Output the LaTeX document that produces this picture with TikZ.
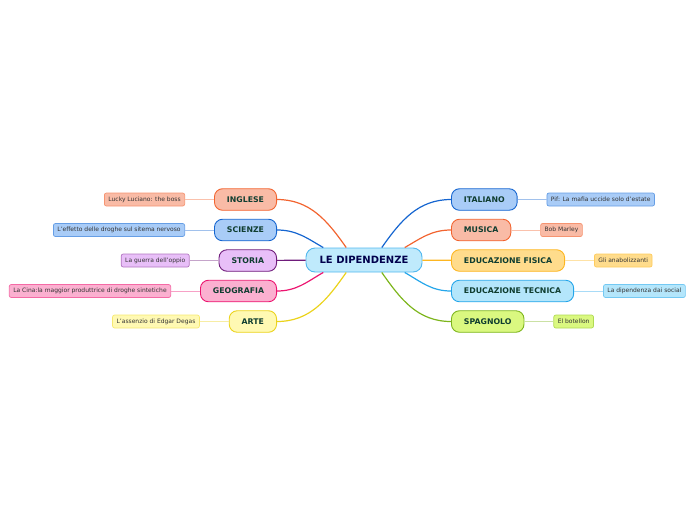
\documentclass[tikz,border=0pt]{standalone}
\usepackage{fontspec}
\setmainfont{DejaVu Sans}
\usetikzlibrary{positioning}
\definecolor{ing}{HTML}{F26430}\definecolor{ingfill}{HTML}{F9BBA6}
\definecolor{sci}{HTML}{1565D0}\definecolor{scifill}{HTML}{A9CCF7}
\definecolor{sto}{HTML}{6F1C7B}\definecolor{stofill}{HTML}{E8BFF8}
\definecolor{geo}{HTML}{EC1570}\definecolor{geofill}{HTML}{FBB0D0}
\definecolor{art}{HTML}{EBD31C}\definecolor{artfill}{HTML}{FFF9B3}
\definecolor{fis}{HTML}{FDB621}\definecolor{fisfill}{HTML}{FFDC8C}
\definecolor{tec}{HTML}{25A6EA}\definecolor{tecfill}{HTML}{B4E6FB}
\definecolor{spa}{HTML}{7DB51C}\definecolor{spafill}{HTML}{DAF880}
\definecolor{maintext}{HTML}{0F3D30}
\tikzset{
  mainbox/.style={draw=#1,fill=#1fill,line width=.9pt,rounded corners=8pt,minimum height=21.5pt,inner xsep=12.5pt,
    font=\fontsize{7.8}{9}\selectfont\bfseries,text=maintext},
  subbox/.style={draw=#1!45!#1fill,fill=#1fill,line width=.7pt,rounded corners=2pt,minimum height=13pt,inner xsep=4pt,inner ysep=1pt,
    font=\fontsize{6}{7}\selectfont,text=black!80},
  subline/.style={draw=#1!40!white,line width=1pt},
  branch/.style={draw=#1,line width=1.2pt}
}
\begin{document}
\begin{tikzpicture}[x=1pt,y=1pt]
\useasboundingbox (0,0) rectangle (696,-520);
\node[draw=tec!80,fill=tecfill!85,line width=.9pt,rounded corners=9pt,minimum width=116pt,minimum height=24pt,
  font=\fontsize{10}{12}\selectfont\bfseries,text=blue!30!black] (c) at (364,-260) {LE DIPENDENZE};
% left branches
\foreach \n/\t/\c/\y/\s in {ing/INGLESE/ing/199.5/{Lucky Luciano: the boss},
  sci/SCIENZE/sci/230/{L'effetto delle droghe sul sitema nervoso},
  sto/STORIA/sto/260.5/{La guerra dell'oppio},
  geo/GEOGRAFIA/geo/291/{La Cina:la maggior produttrice di droghe sintetiche},
  art/ARTE/art/321.5/{L'assenzio di Edgar Degas}}
  {\node[mainbox=\c,anchor=east] (\n) at (277,-\y) {\t};
   \node[subbox=\c,left=29pt of \n] (\n s) {\s};
   \draw[subline=\c] (\n s) -- (\n);}
% right branches
\foreach \n/\t/\c/\y/\s in {ita/ITALIANO/sci/199.5/{Pif: La mafia uccide solo d'estate},
  mus/MUSICA/ing/230/{Bob Marley},
  fis/EDUCAZIONE FISICA/fis/260.5/{Gli anabolizzanti},
  tec/EDUCAZIONE TECNICA/tec/291/{La dipendenza dai social},
  spa/SPAGNOLO/spa/321.5/{El botellon}}
  {\node[mainbox=\c,anchor=west] (\n) at (451,-\y) {\t};
   \node[subbox=\c,right=29pt of \n] (\n s) {\s};
   \draw[subline=\c] (\n s) -- (\n);}
% links from the centre
\foreach \n/\c/\a/\o/\i in {ing/ing/145/0/125, sci/sci/163/0/150, geo/geo/-163/0/-150, art/art/-145/0/-125}
  \draw[branch=\c] (\n.east) to[out=\o,in=\i] (c.\a);
\foreach \n/\c/\a/\o/\i in {ita/sci/35/180/55, mus/ing/17/180/30, tec/tec/-17/180/-30, spa/spa/-35/180/-55}
  \draw[branch=\c] (\n.west) to[out=\o,in=\i] (c.\a);
\draw[branch=sto] (sto) -- (c); \draw[branch=fis] (fis) -- (c);
\end{tikzpicture}
\end{document}
